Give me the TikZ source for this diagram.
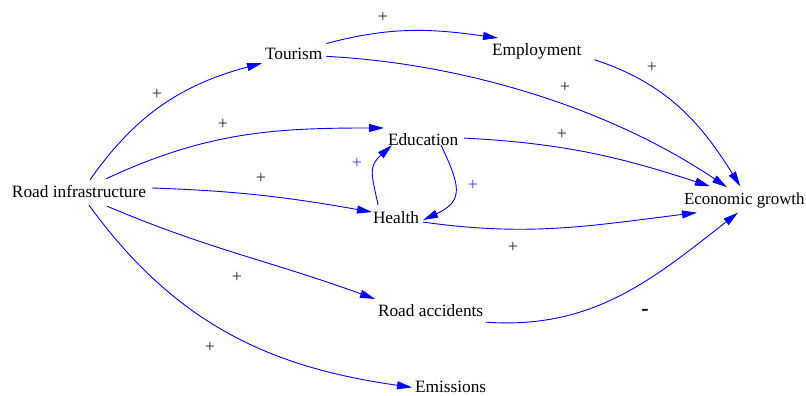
\documentclass[tikz,border=0pt]{standalone}
\usepackage{fontspec}
\setmainfont{Liberation Serif}
\usetikzlibrary{arrows.meta}
\begin{document}
\begin{tikzpicture}[x=1pt,y=1pt,
  var/.style={anchor=base west, inner sep=3pt, outer sep=0pt,
    font=\fontsize{17.3}{20}\selectfont},
  link/.style={draw={rgb,255:red,0;green,0;blue,255}, line width=0.9pt,
    -{Triangle[length=15pt,width=8pt]}},
  sign/.style={font=\fontsize{18}{20}\selectfont, text=black!85, inner sep=0pt},
  negsign/.style={font=\fontsize{22}{24}\selectfont\bfseries, text=black, inner sep=0pt},
  loopsign/.style={sign, text={rgb,255:red,60;green,60;blue,255}}]
\useasboundingbox (0,0) rectangle (806,396);

% variables
\node[var] (ri)   at (9,198)   {Road infrastructure};
\node[var] (tour) at (262,336) {Tourism};
\node[var] (emp)  at (489,340) {Employment};
\node[var] (edu)  at (385,250) {Education};
\node[var] (hea)  at (370,172) {Health};
\node[var, font=\fontsize{16.9}{20}\selectfont] (eco) at (681,191) {Economic growth};
\node[var] (acc)  at (375,79)  {Road accidents};
\node[var] (emi)  at (412,3)   {Emissions};

% links from road infrastructure
\draw[link] ([shift={(11,3)}]ri.north) to[out=55,in=195] (tour.south west);
\draw[link] ([shift={(27,4)}]ri.north) to[out=25,in=180] ([shift={(-1,3)}]edu.north west);
\draw[link] ([shift={(3,4)}]ri.east) to[out=-2,in=170] ([shift={(2,6)}]hea.west);
\draw[link] ([shift={(28,-5)}]ri.south) to[out=-23,in=160] ([shift={(0,3)}]acc.north west);
\draw[link] ([shift={(10,-4)}]ri.south) to[out=-54,in=172] (emi.west);

% links towards economic growth
\draw[link] ([shift={(1,2)}]tour.north east) to[out=15,in=172] ([shift={(9,3)}]emp.north west);
\draw[link] ([shift={(1,-2)}]tour.east) to[out=-3,in=146,looseness=0.85] ([shift={(46,3)}]eco.north west);
\draw[link] ([shift={(10,3)}]emp.south east) to[out=-18,in=122] ([shift={(-4,4)}]eco.north);
\draw[link] ([shift={(3,2)}]edu.east) to[out=-3,in=162] ([shift={(29,4)}]eco.north west);
\draw[link] ([shift={(1,-4)}]hea.east) to[out=-8,in=187] ([shift={(16,-1)}]eco.south west);
\draw[link] ([shift={(0,-2)}]acc.south east) to[out=-4,in=218] ([shift={(57,-1)}]eco.south west);

% education - health loop
\draw[link] ([shift={(18,4)}]edu.south) .. controls +(-65:44) and +(25:46) .. ([shift={(1,-2)}]hea.east);
\draw[link] ([shift={(-18,4)}]hea.north) .. controls +(102:32) and +(222:32) .. ([shift={(7,4)}]edu.south west);

% polarities
\node[sign] (s1) at (157,302) {+};
\node[sign] (s2) at (223,272) {+};
\node[sign] (s3) at (261,218) {+};
\node[sign] (s4) at (237,119) {+};
\node[sign] (s5) at (210,49)  {+};
\node[sign] (s6) at (383,379) {+};
\node[sign] (s7) at (565,309) {+};
\node[sign] (s8) at (652,329) {+};
\node[sign] (s9) at (562,262) {+};
\node[sign] (s10) at (513,149) {+};
\node[negsign] (s11) at (645,84) {-};
\node[loopsign] (s12) at (357,233) {+};
\node[loopsign] (s13) at (473,211) {+};
\end{tikzpicture}
\end{document}
